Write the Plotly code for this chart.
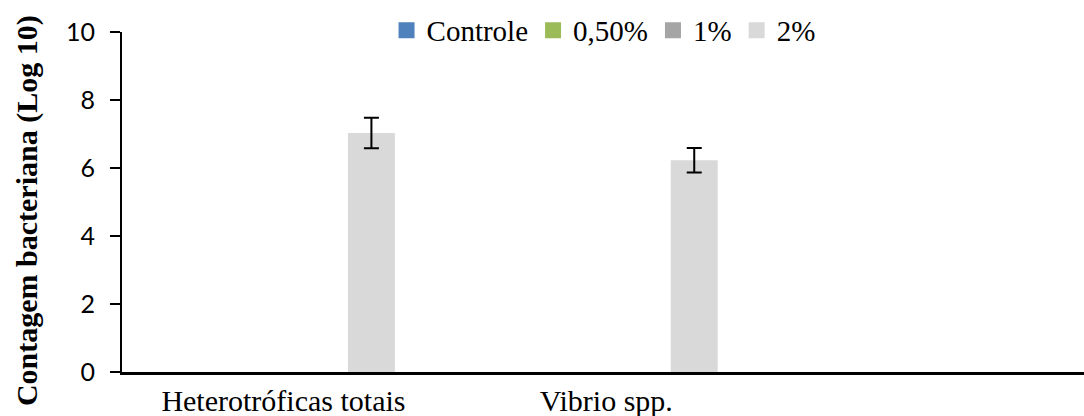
import plotly.graph_objects as go

# Bacterial counts (log10) per group and treatment
categories = ["Heterotróficas totais", "Vibrio spp.", " "]
series_names = ["Controle", "0,50%", "1%", "2%"]
series_colors = ["#4F81BD", "#9BBB59", "#A5A5A5", "#D9D9D9"]

controle = [None, None, None]
meio_pct = [None, None, None]
um_pct = [None, None, None]
dois_pct = [7.03, 6.23, None]

controle_err = [0, 0, 0]
meio_pct_err = [0, 0, 0]
um_pct_err = [0, 0, 0]
dois_pct_err = [0.45, 0.36, 0]

y_ticks = [0, 2, 4, 6, 8, 10]

values = [controle, meio_pct, um_pct, dois_pct]
errors = [controle_err, meio_pct_err, um_pct_err, dois_pct_err]

serif = "Liberation Serif"

fig = go.Figure()
for name, color, vals, errs in zip(series_names, series_colors, values, errors):
    fig.add_trace(go.Bar(
        x=categories, y=vals, name=name,
        marker=dict(color=color, line=dict(width=0)),
        error_y=dict(type="data", array=errs, visible=True,
                     color="black", thickness=2, width=7.5),
        showlegend=False,
    ))

# square legend keys
for name, color in zip(series_names, series_colors):
    fig.add_trace(go.Scatter(
        x=[None], y=[None], mode="markers", name=name,
        marker=dict(symbol="square", size=19, color=color),
    ))

fig.update_layout(
    width=1084, height=416,
    margin=dict(l=122, r=0, t=32, b=44),
    paper_bgcolor="white", plot_bgcolor="white",
    barmode="group", bargap=0.273, bargroupgap=0.2,
    showlegend=True,
    legend=dict(orientation="h", x=0.275, xanchor="left",
                y=1.005, yanchor="middle",
                font=dict(family=serif, size=29, color="black"),
                bgcolor="rgba(0,0,0,0)", itemsizing="trace"),
    xaxis=dict(type="category", categoryorder="array", categoryarray=categories,
               range=[-0.5, 2.48], showline=True, linecolor="black", linewidth=2.5,
               ticks="", showgrid=False,
               tickfont=dict(family=serif, size=30, color="black")),
    yaxis=dict(range=[0, 10], tickvals=y_ticks, showline=True, linecolor="black",
               linewidth=2, ticks="outside", ticklen=10, tickwidth=2, tickcolor="black",
               showgrid=False, zeroline=False, ticklabelstandoff=10,
               tickfont=dict(family="Lato", size=25, color="black")),
    annotations=[dict(
        text="<b>Contagem bacteriana (Log 10)</b>", textangle=-90,
        xref="paper", yref="paper", x=-0.0988, y=0.476,
        xanchor="center", yanchor="middle", showarrow=False,
        font=dict(family=serif, size=30, color="black"),
    )],
)

fig.write_html("out.html")
